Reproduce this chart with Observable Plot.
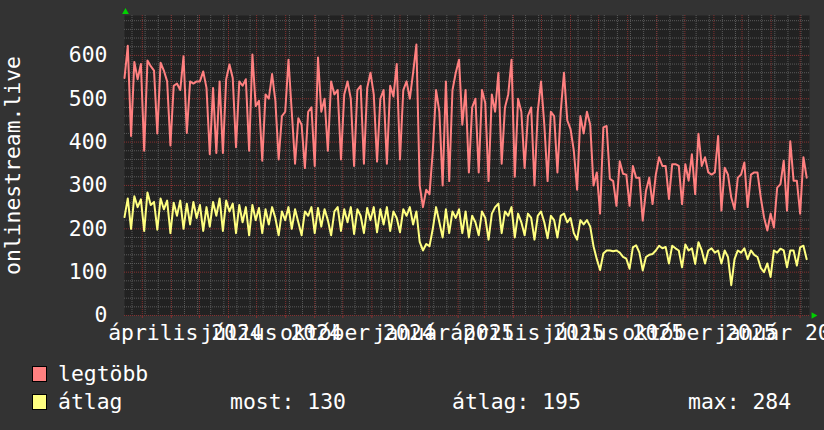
<!DOCTYPE html>
<html><head><meta charset="utf-8">
<script src="https://cdn.jsdelivr.net/npm/d3@7"></script>
<script src="https://cdn.jsdelivr.net/npm/@observablehq/plot@0.6"></script>
<style>
html,body{margin:0;padding:0;background:#333;}
#wrap{position:relative;width:824px;height:430px;background:#333;overflow:hidden;font-family:"DejaVu Sans Mono",monospace;font-size:21.4px;color:#fff;}
#wrap svg{display:block;}
.sw{position:absolute;width:13px;height:14px;border:1px solid #000;}
.lt{position:absolute;line-height:21px;white-space:pre;}
</style></head><body><div id="wrap"></div>
<script>
// ---- data (sampled every 3.5 days from 2024-02-11) ----
const startDay = "2024-02-11";
const stepDays = 3.5;
const legtobb = [
548,622,414,585,545,580,380,588,575,565,
420,583,565,540,392,530,535,520,598,421,
540,535,540,540,563,525,372,525,375,540,
375,545,579,548,388,540,530,545,380,602,
483,495,357,510,500,557,495,360,460,470,
590,470,350,455,440,340,470,480,345,595,
470,500,380,540,510,520,360,510,540,500,
345,520,530,350,525,560,510,355,500,520,
350,530,505,580,360,520,540,500,560,625,
300,250,290,280,380,520,470,300,540,310,
520,560,590,440,520,330,480,500,330,520,
490,310,510,470,560,350,480,510,590,320,
500,470,340,460,480,300,470,540,440,310,
470,460,330,470,560,450,430,380,290,460,
420,470,440,300,330,235,434,437,315,310,
253,356,327,325,253,345,318,318,219,288,
318,257,325,365,345,345,269,349,349,345,
257,349,311,372,280,419,345,365,330,325,
330,414,242,341,325,272,245,318,325,353,
250,325,330,330,272,226,196,235,203,295,
303,357,242,402,311,311,235,365,318
];
const atlag = [
227,270,200,275,250,268,195,284,255,262,
198,270,245,265,190,260,230,265,200,258,
210,262,225,255,195,250,205,262,230,270,
195,265,240,258,190,255,215,250,185,255,
220,248,190,245,210,250,225,185,240,220,
250,200,245,215,185,240,230,250,190,248,
205,245,220,185,240,250,195,245,215,250,
188,245,230,190,248,220,250,192,245,210,
250,195,240,225,192,245,230,250,210,240,
170,150,165,160,200,250,215,180,245,190,
240,225,245,190,240,180,230,215,185,240,
225,175,235,250,258,190,240,230,250,180,
235,215,185,235,225,175,230,240,215,178,
230,220,180,230,235,215,225,190,175,220,
210,220,205,160,130,105,143,150,150,148,
150,145,135,131,108,157,162,145,104,135,
140,142,150,161,155,158,120,161,155,150,
111,164,150,155,119,169,150,120,150,155,
145,150,120,150,135,70,130,150,145,155,
130,150,140,135,110,100,120,89,150,145,
154,150,111,150,150,115,157,161,130
];
const yTicks = [0,100,200,300,400,500,600];
const xTickLabels = ["április 2024","július 2024","október 2024","január 2025","április 2025","július 2025","október 2025","január 2026"];
const xTickDays = ["2024-04-16","2024-07-16T12:00","2024-10-16T12:00","2025-01-16T12:00","2025-04-16","2025-07-16T12:00","2025-10-16T12:00","2026-01-16T12:00"];
const yTitle = "onlinestream.live";
const seriesNames = ["legtöbb","átlag"];
const seriesColors = ["#ff8080","#ffff80"];
const statLabels = ["most","átlag","max"];
const statValues = [130,195,284];

// ---- build ----
const DAY = 864e5;
const FS = 21.4;
const x0 = new Date(startDay + "T00:00:00Z");
const x1 = new Date("2026-02-11T00:00:00Z");
const dates = legtobb.map((_, i) => new Date(x0.getTime() + i * stepDays * DAY));
const redData = legtobb.map((v, i) => ({date: dates[i], v}));
const yelData = atlag.map((v, i) => ({date: dates[i], v}));
const xTickDates = xTickDays.map(s => new Date(s + (s.includes("T") ? ":00Z" : "T00:00:00Z")));
const monthLines = d3.utcMonth.range(x0, x1);
const biweekStart = new Date("2024-02-19T00:00:00Z").getTime();
const minorX = d3.range(0, 731, 14).map(k => new Date(biweekStart + k * DAY)).filter(d => d < x1);
const yMax = 692;
const minorY = d3.range(20, yMax, 20).filter(v => v % 100 !== 0);
const majorY = d3.range(0, yMax, 100);

const gridGray = "#5a5a5a", gridRed = "#853030";
const chart = Plot.plot({
  width: 824, height: 345,
  marginLeft: 124, marginRight: 15, marginTop: 15, marginBottom: 30,
  style: {background: "#333", color: "#fff", fontFamily: "DejaVu Sans Mono, monospace", fontSize: FS + "px", overflow: "visible"},
  x: {type: "utc", domain: [x0, x1]},
  y: {domain: [0, yMax]},
  marks: [
    Plot.frame({fill: "#222", stroke: "none"}),
    Plot.ruleY(minorY, {stroke: gridGray, strokeDasharray: "1,1"}),
    Plot.ruleX(minorX, {stroke: gridGray, strokeDasharray: "1,1"}),
    Plot.ruleY(majorY, {stroke: gridRed, strokeDasharray: "1,1"}),
    Plot.ruleX(monthLines, {stroke: gridRed, strokeDasharray: "1,1"}),
    Plot.ruleX(monthLines, {y1: 0, y2: -7, stroke: gridRed}),
    Plot.axisY({ticks: yTicks, tickSize: 0, tickPadding: 17, fontSize: FS, label: null, tickFormat: d => String(d)}),
    Plot.axisX({ticks: xTickDates, tickSize: 0, tickPadding: 9, fontSize: FS, label: null,
      tickFormat: d => xTickLabels[xTickDates.findIndex(t => +t === +d)]}),
    Plot.text([yTitle], {frameAnchor: "left", textAnchor: "middle", dx: -111, rotate: -90, fontSize: FS, fill: "#fff"}),
    Plot.line(yelData, {x: "date", y: "v", stroke: seriesColors[1], strokeWidth: 2}),
    Plot.line(redData, {x: "date", y: "v", stroke: seriesColors[0], strokeWidth: 2}),
    Plot.dot([0], {frameAnchor: "top-left", symbol: "triangle", r: 2.5, dx: 1, dy: -3.5, fill: "#00d000", stroke: "none"}),
    Plot.dot([0], {frameAnchor: "bottom-right", symbol: "triangle", rotate: 90, r: 2.5, dx: 4, fill: "#00d000", stroke: "none"})
  ]
});
const wrap = document.getElementById("wrap");
wrap.append(chart);

// ---- legend (HTML, below the SVG) ----
function add(cls, css, text) {
  const el = document.createElement("div");
  el.className = cls;
  Object.assign(el.style, css);
  if (text != null) el.textContent = text;
  wrap.append(el);
}
const rowTops = [363, 391];
seriesNames.forEach((name, i) => {
  add("sw", {left: "32px", top: (rowTops[i] + 3) + "px", background: seriesColors[i]});
  add("lt", {left: "58px", top: rowTops[i] + "px"}, name);
});
const statLefts = [230, 452, 688];
statLabels.forEach((lab, i) => {
  add("lt", {left: statLefts[i] + "px", top: rowTops[1] + "px"}, lab + ": " + statValues[i]);
});
</script></body></html>
